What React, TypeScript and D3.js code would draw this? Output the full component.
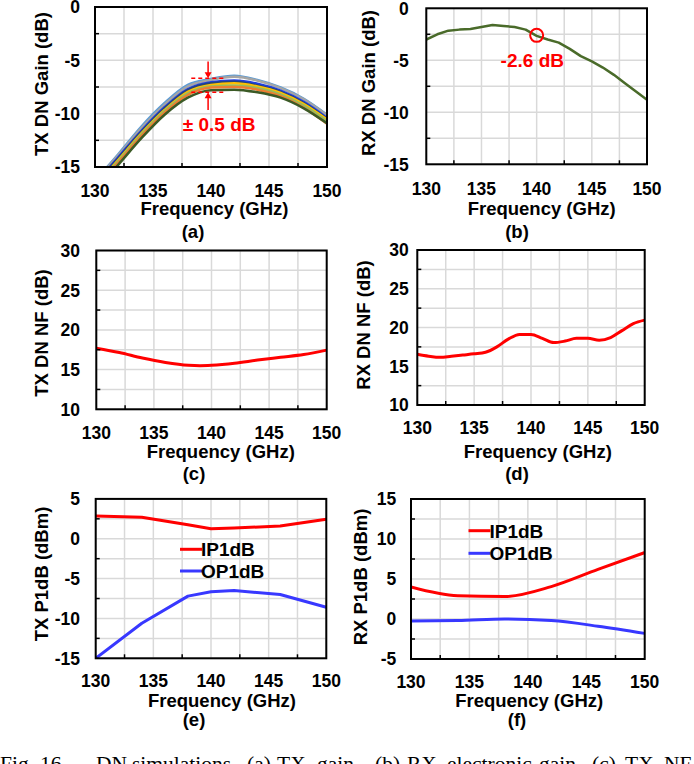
import React from 'react';
import * as d3 from 'd3';

// ---------- DATA ----------
const freqTxGain = [130, 132, 134, 136, 138, 140, 142, 144, 146, 148, 150];
const txGainLightBlue = [-16.3, -13.8, -11.2, -9.0, -7.3, -6.75, -6.45, -6.85, -7.55, -8.6, -10.1];
const txGainGray = [-16.4, -13.9, -11.35, -9.15, -7.45, -6.85, -6.55, -6.9, -7.6, -8.65, -10.15];
const txGainBlue = [-16.6, -14.1, -11.6, -9.4, -7.7, -7.05, -6.9, -7.2, -7.85, -8.9, -10.4];
const txGainNavy = [-16.7, -14.2, -11.7, -9.5, -7.8, -7.15, -7.0, -7.35, -7.95, -9.0, -10.5];
const txGainYellow = [-16.8, -14.35, -11.85, -9.65, -7.95, -7.3, -7.15, -7.45, -8.05, -9.1, -10.55];
const txGainLightGreen = [-16.9, -14.45, -11.95, -9.75, -8.1, -7.45, -7.35, -7.6, -8.2, -9.25, -10.7];
const txGainOrange = [-17.0, -14.6, -12.1, -9.9, -8.25, -7.55, -7.5, -7.75, -8.35, -9.45, -10.95];
const txGainDarkGreen = [-17.2, -14.8, -12.3, -10.1, -8.5, -7.8, -7.75, -8.0, -8.5, -9.5, -10.9];

const freqRxGain = [130, 131, 132, 133, 134, 135, 136, 137, 138, 139, 140, 141, 142, 143, 144, 145, 146, 147, 148, 149, 150];
const rxGain = [-3.0, -2.5, -2.15, -2.05, -2.0, -1.8, -1.6, -1.7, -1.8, -2.05, -2.65, -3.0, -3.3, -3.9, -4.6, -5.1, -5.7, -6.4, -7.2, -8.0, -8.8];

const freqTxNf = [130, 132, 134, 136, 138, 139, 140, 142, 144, 146, 148, 150];
const txNf = [17.7, 17.15, 16.45, 15.9, 15.55, 15.5, 15.55, 15.8, 16.2, 16.55, 16.9, 17.45];

const freqRxNf = [130, 131, 132, 133, 134, 135, 136, 137, 138, 139, 140, 141, 142, 143, 144, 145, 146, 147, 148, 149, 150];
const rxNf = [16.55, 16.3, 16.15, 16.3, 16.45, 16.6, 16.8, 17.5, 18.5, 19.1, 19.1, 18.6, 18.05, 18.25, 18.6, 18.6, 18.35, 18.7, 19.6, 20.5, 20.95];

const freqP1dB = [130, 134, 138, 140, 142, 146, 150];
const txIp1dB = [2.85, 2.7, 1.75, 1.25, 1.35, 1.6, 2.45];
const txOp1dB = [-15, -10.6, -7.2, -6.65, -6.5, -7.0, -8.6];
const freqRxP1dB = [130, 134, 138, 142, 146, 150];
const rxIp1dB = [4.0, 2.9, 2.8, 4.05, 6.2, 8.3];
const rxOp1dB = [-0.25, -0.2, 0.0, -0.2, -0.9, -1.8];

const xTickLabels = [130, 135, 140, 145, 150];
const legendNames = ['IP1dB', 'OP1dB'];
const captionWords: [string, number][] = [
  ['Fig.', 0], ['16.', 40], ['DN', 96], ['simulations.', 132], ['(a)', 247], ['TX', 277], ['gain,', 317],
  ['(b)', 375], ['RX', 407], ['electronic', 447], ['gain,', 539], ['(c)', 592], ['TX', 625], ['NF', 664],
];

// ---------- STYLE ----------
const SANS = '"Liberation Sans", Arial, sans-serif';
const SERIF = '"Liberation Serif", "Times New Roman", serif';
const RED = '#FF0000';
const BLUE = '#3838FF';
const GRID = '#D9D9D9';

type Series = { xs: number[]; ys: number[]; color: string; width: number; curve: d3.CurveFactory };

type PanelProps = {
  id: string;
  box: [number, number, number, number]; // x0,x1,y0(top),y1(bottom)
  yDomain: [number, number];
  yLabelRight: number;
  yTitle: string;
  yTitlePos: [number, number];
  tickBase: number;
  xTitlePos: [number, number];
  cap: string;
  capPos: [number, number];
  series: Series[];
  children?: (x: d3.ScaleLinear<number, number>, y: d3.ScaleLinear<number, number>) => React.ReactNode;
};

function Panel(p: PanelProps) {
  const x = d3.scaleLinear().domain([130, 150]).range([p.box[0], p.box[1]]);
  const y = d3.scaleLinear().domain(p.yDomain).range([p.box[3], p.box[2]]);
  const xGrid = d3.range(130, 150.001, 2.5);
  const yGrid = d3.range(p.yDomain[0], p.yDomain[1] + 0.001, 2.5);
  const yMajor = d3.range(p.yDomain[0], p.yDomain[1] + 0.001, 5);
  const xMinor = xGrid.filter((v) => Math.abs(v % 5) > 0.1);
  const yMinor = yGrid.filter((v) => Math.abs((v - p.yDomain[0]) % 5) > 0.1);
  const [x0, x1, y0, y1] = p.box;
  return (
    <g>
      <defs>
        <clipPath id={`clip-${p.id}`}>
          <rect x={x0} y={y0} width={x1 - x0} height={y1 - y0} />
        </clipPath>
      </defs>
      {xGrid.map((v) => (
        <line key={'xg' + v} x1={x(v)} x2={x(v)} y1={y0} y2={y1} stroke={GRID} strokeWidth={1.5} />
      ))}
      {yGrid.map((v) => (
        <line key={'yg' + v} x1={x0} x2={x1} y1={y(v)} y2={y(v)} stroke={GRID} strokeWidth={1.5} />
      ))}
      <g clipPath={`url(#clip-${p.id})`}>
        {p.series.map((s, i) => {
          const gen = d3
            .line<number>()
            .x((_, j) => x(s.xs[j]))
            .y((d) => y(d))
            .curve(s.curve);
          return <path key={i} d={gen(s.ys) || ''} fill="none" stroke={s.color} strokeWidth={s.width} strokeLinejoin="round" />;
        })}
      </g>
      {xMinor.map((v) => (
        <line key={'xt' + v} x1={x(v)} x2={x(v)} y1={y1} y2={y1 - 4} stroke="#000" strokeWidth={1.5} />
      ))}
      {yMinor.map((v) => (
        <line key={'yt' + v} x1={x0} x2={x0 + 4} y1={y(v)} y2={y(v)} stroke="#000" strokeWidth={1.5} />
      ))}
      <rect x={x0} y={y0} width={x1 - x0} height={y1 - y0} fill="none" stroke="#000" strokeWidth={2} />
      {p.children && p.children(x, y)}
      <g fontFamily={SANS} fontWeight="bold" fill="#000">
        {xTickLabels.map((v) => (
          <text key={'xl' + v} x={x(v)} y={p.tickBase} textAnchor="middle" fontSize={17.5}>
            {v}
          </text>
        ))}
        {yMajor.map((v) => (
          <text key={'yl' + v} x={p.yLabelRight} y={y(v)} dy="0.36em" textAnchor="end" fontSize={17.5}>
            {v}
          </text>
        ))}
        <text x={p.xTitlePos[0]} y={p.xTitlePos[1]} textAnchor="middle" fontSize={18.5}>
          Frequency (GHz)
        </text>
        <text
          transform={`translate(${p.yTitlePos[0]},${p.yTitlePos[1]}) rotate(-90)`}
          textAnchor="middle"
          dy="0.36em"
          fontSize={18.5}
        >
          {p.yTitle}
        </text>
        <text x={p.capPos[0]} y={p.capPos[1]} textAnchor="middle" fontSize={18.5}>
          {p.cap}
        </text>
      </g>
    </g>
  );
}

function Legend({ x, y, gap }: { x: number; y: number; gap: number }) {
  const colors = [RED, BLUE];
  return (
    <g fontFamily={SANS} fontWeight="bold" fontSize={19}>
      {legendNames.map((n, i) => (
        <g key={n}>
          <line x1={x} x2={x + 22} y1={y + i * gap} y2={y + i * gap} stroke={colors[i]} strokeWidth={3} />
          <text x={x + 21} y={y + i * gap} dy="0.36em" fill="#000">
            {n}
          </text>
        </g>
      ))}
    </g>
  );
}

export default function App() {
  const smooth = d3.curveMonotoneX;
  const lin = d3.curveLinear;
  const txGainSeries: Series[] = [
    { xs: freqTxGain, ys: txGainLightBlue, color: '#5B9BD5', width: 2.5, curve: smooth },
    { xs: freqTxGain, ys: txGainGray, color: '#A5A5A5', width: 2.5, curve: smooth },
    { xs: freqTxGain, ys: txGainBlue, color: '#1F3FE0', width: 2.5, curve: smooth },
    { xs: freqTxGain, ys: txGainNavy, color: '#264478', width: 2.5, curve: smooth },
    { xs: freqTxGain, ys: txGainYellow, color: '#FFC000', width: 2.5, curve: smooth },
    { xs: freqTxGain, ys: txGainLightGreen, color: '#9BBB59', width: 2.5, curve: smooth },
    { xs: freqTxGain, ys: txGainOrange, color: '#ED7D31', width: 2.5, curve: smooth },
    { xs: freqTxGain, ys: txGainDarkGreen, color: '#3B5A26', width: 2.5, curve: smooth },
  ];
  return (
    <div style={{ position: 'absolute', left: 0, top: 0 }}>
      <svg width={694} height={764} viewBox="0 0 694 764" style={{ display: 'block', background: '#fff' }}>
        <rect width={694} height={764} fill="#fff" />
        <Panel
          id="a"
          box={[95, 327, 7, 167]}
          yDomain={[-15, 0]}
          yLabelRight={80}
          yTitle="TX DN Gain (dB)"
          yTitlePos={[41.7, 84]}
          tickBase={197}
          xTitlePos={[214.5, 214.5]}
          cap="(a)"
          capPos={[193, 238]}
          series={txGainSeries}
        >
          {(x, y) => (
            <g>
              <line x1={x(138.3)} x2={x(141.3)} y1={y(-6.69)} y2={y(-6.69)} stroke={RED} strokeWidth={1.5} strokeDasharray="4,3" />
              <line x1={x(138.3)} x2={x(141.3)} y1={y(-8.0)} y2={y(-8.0)} stroke={RED} strokeWidth={1.5} strokeDasharray="4,3" />
              <line x1={x(139.75)} x2={x(139.75)} y1={y(-5.1)} y2={y(-6.69) - 5} stroke={RED} strokeWidth={1.5} />
              <path
                d={`M${x(139.75) - 3.5},${y(-6.69) - 6} L${x(139.75) + 3.5},${y(-6.69) - 6} L${x(139.75)},${y(-6.69)} Z`}
                fill={RED}
              />
              <line x1={x(139.75)} x2={x(139.75)} y1={y(-9.65)} y2={y(-8.0) + 5} stroke={RED} strokeWidth={1.5} />
              <path
                d={`M${x(139.75) - 3.5},${y(-8.0) + 6} L${x(139.75) + 3.5},${y(-8.0) + 6} L${x(139.75)},${y(-8.0)} Z`}
                fill={RED}
              />
              <text x={x(140.7)} y={130.7} textAnchor="middle" fontFamily={SANS} fontWeight="bold" fontSize={19} fill={RED}>
                ± 0.5 dB
              </text>
            </g>
          )}
        </Panel>
        <Panel
          id="b"
          box={[426.3, 647, 8.3, 164.3]}
          yDomain={[-15, 0]}
          yLabelRight={408.7}
          yTitle="RX DN Gain (dB)"
          yTitlePos={[368.7, 83]}
          tickBase={195}
          xTitlePos={[541.7, 214.5]}
          cap="(b)"
          capPos={[517, 238]}
          series={[{ xs: freqRxGain, ys: rxGain, color: '#4A6B2A', width: 2.5, curve: lin }]}
        >
          {(x, y) => (
            <g>
              <circle cx={x(140)} cy={y(-2.6)} r={6.5} fill="none" stroke={RED} strokeWidth={2} />
              <text x={532.3} y={66.7} textAnchor="middle" fontFamily={SANS} fontWeight="bold" fontSize={19} fill={RED}>
                -2.6 dB
              </text>
            </g>
          )}
        </Panel>
        <Panel
          id="c"
          box={[96.3, 326.7, 250.5, 409.3]}
          yDomain={[10, 30]}
          yLabelRight={80}
          yTitle="TX DN NF (dB)"
          yTitlePos={[41.7, 333]}
          tickBase={438.5}
          xTitlePos={[220.8, 458]}
          cap="(c)"
          capPos={[194, 479.5]}
          series={[{ xs: freqTxNf, ys: txNf, color: RED, width: 3, curve: smooth }]}
        />
        <Panel
          id="d"
          box={[417.3, 644.7, 250, 405]}
          yDomain={[10, 30]}
          yLabelRight={408.7}
          yTitle="RX DN NF (dB)"
          yTitlePos={[363.7, 325]}
          tickBase={434}
          xTitlePos={[537.8, 458]}
          cap="(d)"
          capPos={[517, 480]}
          series={[{ xs: freqRxNf, ys: rxNf, color: RED, width: 3, curve: smooth }]}
        />
        <Panel
          id="e"
          box={[95.7, 326.3, 498.9, 658.3]}
          yDomain={[-15, 5]}
          yLabelRight={80}
          yTitle="TX P1dB (dBm)"
          yTitlePos={[41.7, 574]}
          tickBase={687.3}
          xTitlePos={[222, 706.5]}
          cap="(e)"
          capPos={[194, 726]}
          series={[
            { xs: freqP1dB, ys: txIp1dB, color: RED, width: 3, curve: lin },
            { xs: freqP1dB, ys: txOp1dB, color: BLUE, width: 3, curve: lin },
          ]}
        >
          {() => <Legend x={180} y={549.3} gap={21.7} />}
        </Panel>
        <Panel
          id="f"
          box={[411, 644.7, 499, 659]}
          yDomain={[-5, 15]}
          yLabelRight={396.3}
          yTitle="RX P1dB (dBm)"
          yTitlePos={[360.3, 577]}
          tickBase={687.7}
          xTitlePos={[529.2, 706.5]}
          cap="(f)"
          capPos={[517, 726]}
          series={[
            { xs: freqRxP1dB, ys: rxIp1dB, color: RED, width: 3, curve: smooth },
            { xs: freqRxP1dB, ys: rxOp1dB, color: BLUE, width: 3, curve: smooth },
          ]}
        >
          {() => <Legend x={468.5} y={530.7} gap={22.6} />}
        </Panel>
        <g fontFamily={SERIF} fontSize={21.5} fill="#000">
          {captionWords.map(([w, xx], i) => (
            <text key={i} x={xx} y={771}>
              {w}
            </text>
          ))}
        </g>
      </svg>
    </div>
  );
}
